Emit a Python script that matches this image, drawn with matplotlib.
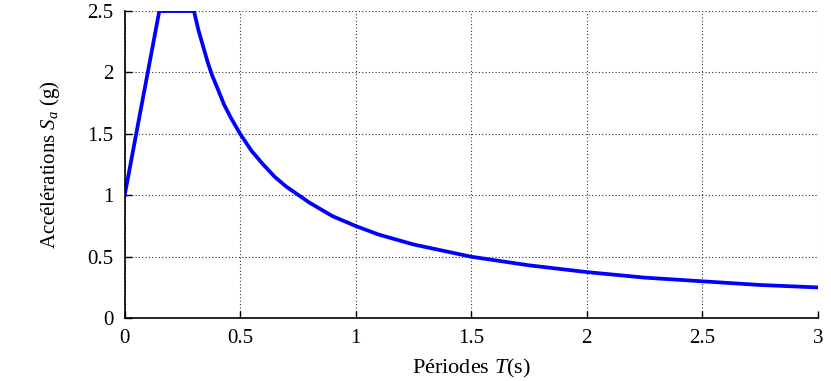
import matplotlib
matplotlib.use("Agg")
import matplotlib.pyplot as plt

# spectre de réponse
periodes = [0.0, 0.05, 0.10, 0.15, 0.20, 0.25, 0.30, 0.32, 0.34, 0.36, 0.38, 0.40,
            0.43, 0.46, 0.50, 0.55, 0.60, 0.65, 0.70, 0.80, 0.90, 1.00, 1.10,
            1.25, 1.40, 1.50, 1.75, 2.00, 2.25, 2.50, 2.75, 3.00]
accel = [1.0, 1.5, 2.0, 2.5, 2.5, 2.5, 2.5, 2.34, 2.21, 2.08, 1.97, 1.88,
         1.74, 1.63, 1.50, 1.36, 1.25, 1.15, 1.07, 0.94, 0.83, 0.75, 0.68,
         0.60, 0.54, 0.50, 0.43, 0.375, 0.33, 0.30, 0.27, 0.25]

xticks = [0, 0.5, 1, 1.5, 2, 2.5, 3]
xlabels = ["0", "0.5", "1", "1.5", "2", "2.5", "3"]
yticks = [0, 0.5, 1, 1.5, 2, 2.5]
ylabels = ["0", "0.5", "1", "1.5", "2", "2.5"]

plt.rcParams['font.family'] = ['Liberation Serif', 'DejaVu Serif']
plt.rcParams['mathtext.fontset'] = 'custom'
plt.rcParams['mathtext.rm'] = 'Liberation Serif'
plt.rcParams['mathtext.it'] = 'Liberation Serif:italic'

fig = plt.figure(figsize=(8.31, 3.81), dpi=100)
ax = fig.add_axes([0.150, 0.165, 0.834, 0.806])

ax.plot(periodes, accel, color='#0000ff', linewidth=2.7, solid_joinstyle='round')

ax.set_xlim(0, 3)
ax.set_ylim(0, 2.5)
ax.set_xticks(xticks)
ax.set_xticklabels(xlabels, fontsize=15)
ax.set_yticks(yticks)
ax.set_yticklabels(ylabels, fontsize=15)
ax.tick_params(direction='in', length=5, width=1, pad=8)

ax.grid(True, linestyle=(0, (1, 2)), color='#333333', linewidth=0.8)
for s in ['top', 'right']:
    ax.spines[s].set_visible(False)
for s in ['left', 'bottom']:
    ax.spines[s].set_linewidth(1.2)

ax.set_xlabel(r"Périodes $T$(s)", fontsize=16, labelpad=6)
ax.set_ylabel(r"Accélérations $S_a$ (g)", fontsize=15, labelpad=18)

fig.savefig("out.png", dpi=100)
